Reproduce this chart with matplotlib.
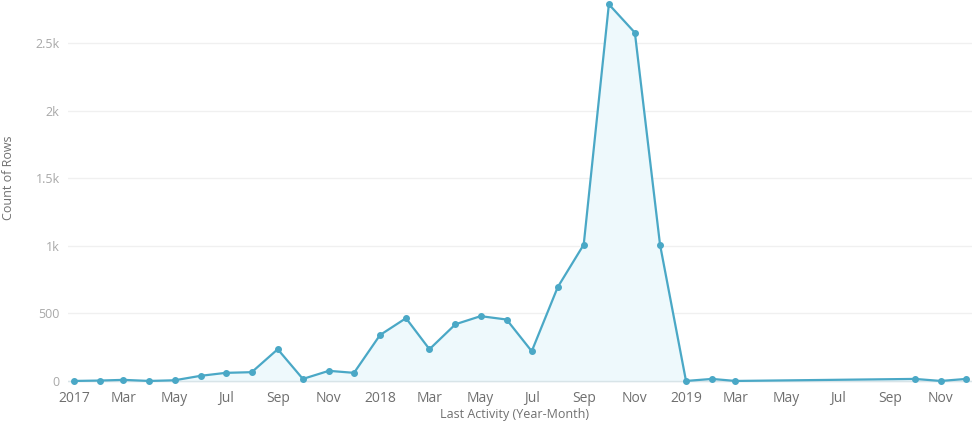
import matplotlib
matplotlib.use("Agg")
import matplotlib.pyplot as plt
import matplotlib.dates as mdates
import numpy as np
import datetime as dt

months = ["2017-01", "2017-02", "2017-03", "2017-04", "2017-05", "2017-06",
          "2017-07", "2017-08", "2017-09", "2017-10", "2017-11", "2017-12",
          "2018-01", "2018-02", "2018-03", "2018-04", "2018-05", "2018-06",
          "2018-07", "2018-08", "2018-09", "2018-10", "2018-11", "2018-12",
          "2019-01", "2019-02", "2019-03", "2019-10", "2019-11", "2019-12"]
counts = [0, 3, 8, 0, 5, 38, 60, 65, 235, 15, 75, 60,
          340, 465, 235, 420, 480, 455, 220, 695, 1010, 2790, 2580, 1010,
          0, 15, 0, 15, 0, 15]
ytick_values = [0, 500, 1000, 1500, 2000, 2500]
ytick_labels = ["0", "500", "1k", "1.5k", "2k", "2.5k"]

dates = [dt.datetime.strptime(m, "%Y-%m") for m in months]

plt.rcParams['font.family'] = ['Open Sans', 'DejaVu Sans']

fig = plt.figure(figsize=(9.72, 4.22), dpi=100)
ax = fig.add_axes([68/972, 37/422, (972-68)/972, 385/422])

line_c = "#4aa8c6"
fill_c = "#eef9fc"
ax.fill_between(dates, counts, 0, color=fill_c, zorder=1)
ax.plot(dates, counts, color=line_c, lw=1.6, marker='o', ms=4, zorder=3)

x0 = mdates.date2num(dt.datetime(2017, 1, 1))
x1 = mdates.date2num(dt.datetime(2019, 1, 1))
dpp = (x1 - x0) / 612.0
ax.set_xlim(x0 - 6 * dpp, x0 + (972 - 74) * dpp)
ax.set_ylim(-30, 2822)

ax.set_yticks(ytick_values)
ax.set_yticklabels(ytick_labels)
ax.grid(axis='y', color='#f0f0f0', lw=1)
ax.axhline(0, color='#d8e4e8', lw=1, zorder=2)
ax.set_axisbelow(True)

xt = []
xl = []
d = dt.datetime(2017, 1, 1)
while d <= dt.datetime(2019, 11, 1):
    xt.append(d)
    xl.append(str(d.year) if d.month == 1 else d.strftime("%b"))
    m = d.month + 2
    y = d.year + (m - 1) // 12
    m = (m - 1) % 12 + 1
    d = dt.datetime(y, m, 1)
ax.set_xticks(xt)
ax.set_xticklabels(xl)

ax.tick_params(axis='x', length=0, labelsize=10, labelcolor='#6f6f6f', pad=4)
ax.tick_params(axis='y', length=0, labelsize=9, labelcolor='#a8a8a8', pad=6)
for s in ax.spines.values():
    s.set_visible(False)

fig.text(8/972, 1 - 178/422, "Count of Rows", rotation=90, ha='center', va='center',
         fontsize=9, color='#707070')
fig.text(515/972, 1/422, "Last Activity (Year-Month)", ha='center', va='bottom',
         fontsize=9, color='#707070')

fig.savefig("out.png", dpi=100)
